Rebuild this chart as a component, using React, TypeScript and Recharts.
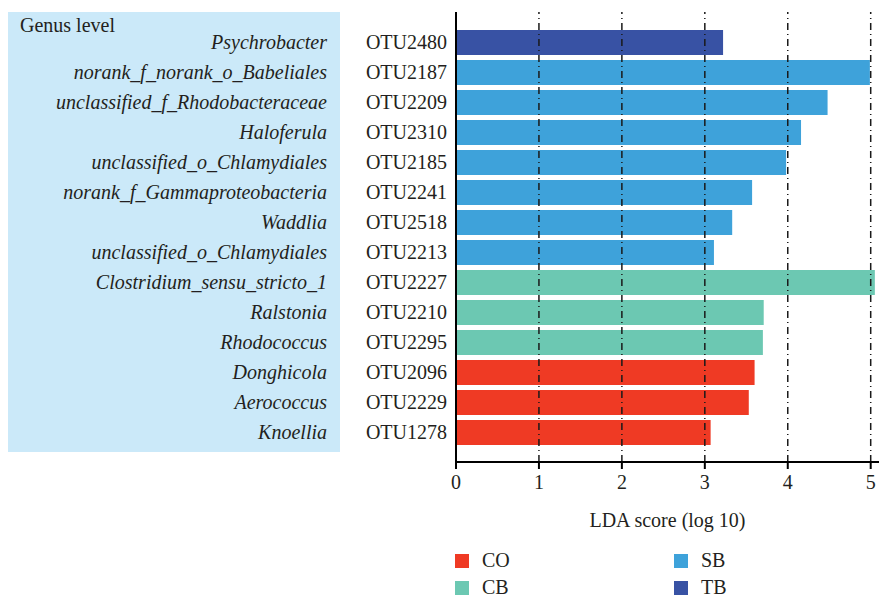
import React from "react";
import { BarChart, Bar, XAxis, YAxis, Cell, ReferenceLine } from "recharts";

const otus = ["OTU2480", "OTU2187", "OTU2209", "OTU2310", "OTU2185", "OTU2241", "OTU2518", "OTU2213", "OTU2227", "OTU2210", "OTU2295", "OTU2096", "OTU2229", "OTU1278"];
const genera = ["Psychrobacter", "norank_f_norank_o_Babeliales", "unclassified_f_Rhodobacteraceae", "Haloferula", "unclassified_o_Chlamydiales", "norank_f_Gammaproteobacteria", "Waddlia", "unclassified_o_Chlamydiales", "Clostridium_sensu_stricto_1", "Ralstonia", "Rhodococcus", "Donghicola", "Aerococcus", "Knoellia"];
const scores = [3.22, 4.99, 4.48, 4.16, 3.98, 3.57, 3.33, 3.11, 5.05, 3.71, 3.70, 3.60, 3.53, 3.07];
const groups = ["TB", "SB", "SB", "SB", "SB", "SB", "SB", "SB", "CB", "CB", "CB", "CO", "CO", "CO"];
const xTicks = [0, 1, 2, 3, 4, 5];
const legendOrder = ["CO", "SB", "CB", "TB"];
const groupColors: Record<string, string> = { CO: "#ef3a24", CB: "#6cc8b2", SB: "#3ea2da", TB: "#3852a4" };

const data = otus.map((otu, i) => ({ otu, genus: genera[i], score: scores[i], group: groups[i] }));

const FONT = "Liberation Serif, DejaVu Serif, serif";
const TXT = "#231f20";

const YTick = (props: any) => {
  const { x, y, payload, index } = props;
  const genus = data[index] ? data[index].genus : "";
  return (
    <g>
      <text x={x} y={y} dy="0.355em" textAnchor="end" style={{ fontFamily: FONT, fontSize: 20 }} fill={TXT}>
        {payload.value}
      </text>
      <text x={x - 120} y={y} dy="0.355em" textAnchor="end" style={{ fontFamily: FONT, fontSize: 20, fontStyle: "italic" }} fill={TXT}>
        {genus}
      </text>
    </g>
  );
};

export default function App() {
  return (
    <div style={{ position: "absolute", left: 0, top: 0, width: 881, height: 597, fontFamily: FONT, background: "#fff" }}>
      <div style={{ position: "absolute", left: 8, top: 12, width: 332, height: 440, background: "#cbe9f9" }} />
      <div style={{ position: "absolute", left: 20, top: 12, fontSize: 20, color: TXT, lineHeight: "26px" }}>Genus level</div>
      <div style={{ position: "absolute", left: 0, top: 0, fontFamily: FONT }}>
        <BarChart width={881} height={597} data={data} layout="vertical" margin={{ top: 12, right: 2, bottom: 65, left: 0 }} barCategoryGap={5} style={{ fontFamily: FONT }}>
          <XAxis
            type="number"
            dataKey="score"
            domain={[0, 5.1]}
            ticks={xTicks}
            allowDataOverflow
            axisLine={{ stroke: "#000", strokeWidth: 2 }}
            tickLine={{ stroke: "#000", strokeWidth: 2 }}
            tickSize={7}
            tickMargin={6}
            height={70}
            tick={{ style: { fontFamily: FONT, fontSize: 20 }, fill: TXT }}
            label={{ value: "LDA score (log 10)", position: "insideBottom", offset: 5, style: { fontFamily: FONT, fontSize: 20, fill: TXT } }}
          />
          <YAxis
            type="category"
            dataKey="otu"
            width={456}
            axisLine={{ stroke: "#000", strokeWidth: 2 }}
            tickLine={false}
            tickSize={0}
            tickMargin={9}
            padding={{ top: 15, bottom: 15 }}
            tick={<YTick />}
            interval={0}
          />
          <Bar dataKey="score" barSize={25} isAnimationActive={false}>
            {data.map((d, i) => (
              <Cell key={i} fill={groupColors[d.group]} />
            ))}
          </Bar>
          {xTicks.slice(1).map((t) => (
            <ReferenceLine key={t} x={t} stroke="#1a1a1a" strokeWidth={1.5} strokeDasharray="7 4 1 4" />
          ))}
        </BarChart>
      </div>
      <div style={{ position: "absolute", left: 455, top: 547, width: 420, display: "grid", gridTemplateColumns: "219px 200px", rowGap: 0 }}>
        {legendOrder.map((g) => (
          <div key={g} style={{ display: "flex", alignItems: "center", height: 27, fontSize: 20, color: TXT }}>
            <span style={{ display: "inline-block", width: 14, height: 14, background: groupColors[g], marginRight: 13 }} />
            {g}
          </div>
        ))}
      </div>
    </div>
  );
}
